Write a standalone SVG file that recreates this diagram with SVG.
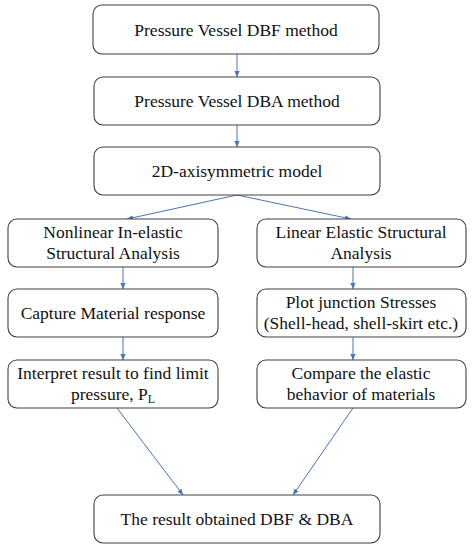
<svg xmlns="http://www.w3.org/2000/svg" width="472" height="550" viewBox="0 0 472 550">
<style>
.box{fill:#fff;stroke:#404040;stroke-width:1.1}
.t{font-size:17.5px;fill:#111;text-anchor:middle}
.c{stroke:#4a74b8;stroke-width:1;fill:none;marker-end:url(#ah)}
</style>
<defs>
<marker id="ah" viewBox="0 0 8 8" refX="8" refY="4" markerWidth="6" markerHeight="6" orient="auto" markerUnits="userSpaceOnUse">
<path d="M0,0.5 L8,4 L0,7.5 Z" fill="#4a74b8"/>
</marker>
</defs>
<rect width="472" height="550" fill="#fff"/>
<g id="connectors">
<line class="c" x1="237" y1="54" x2="237" y2="77"/>
<line class="c" x1="237" y1="125" x2="237" y2="147"/>
<line class="c" x1="237" y1="195" x2="127" y2="219"/>
<line class="c" x1="237" y1="195" x2="351" y2="219"/>
<line class="c" x1="123" y1="267" x2="123" y2="289"/>
<line class="c" x1="353" y1="267" x2="353" y2="289"/>
<line class="c" x1="123" y1="337" x2="123" y2="360"/>
<line class="c" x1="353" y1="337" x2="353" y2="360"/>
<line class="c" x1="117" y1="408" x2="183" y2="495"/>
<line class="c" x1="353" y1="408" x2="293" y2="495"/>
</g>
<g font-family="Liberation Serif, DejaVu Serif, serif">
<g id="n1"><rect class="box" x="93" y="5" width="286" height="49" rx="9"/><text class="t" x="236" y="36">Pressure Vessel DBF method</text></g>
<g id="n2"><rect class="box" x="94" y="77" width="286" height="48" rx="9"/><text class="t" x="237" y="107">Pressure Vessel DBA method</text></g>
<g id="n3"><rect class="box" x="94" y="147" width="286" height="48" rx="9"/><text class="t" x="237" y="177">2D-axisymmetric model</text></g>
<g id="n4"><rect class="box" x="8" y="219" width="210" height="48" rx="9"/><text class="t" x="113" y="238">Nonlinear In-elastic</text><text class="t" x="113" y="259">Structural Analysis</text></g>
<g id="n5"><rect class="box" x="257" y="219" width="209" height="48" rx="9"/><text class="t" x="361" y="238">Linear Elastic Structural</text><text class="t" x="361" y="259">Analysis</text></g>
<g id="n6"><rect class="box" x="8" y="289" width="210" height="48" rx="9"/><text class="t" x="113" y="319">Capture Material response</text></g>
<g id="n7"><rect class="box" x="257" y="289" width="209" height="48" rx="9"/><text class="t" x="361" y="308">Plot junction Stresses</text><text class="t" x="361" y="329">(Shell-head, shell-skirt etc.)</text></g>
<g id="n8"><rect class="box" x="8" y="360" width="210" height="48" rx="9"/><text class="t" x="113" y="379">Interpret result to find limit</text><text class="t" x="113" y="400">pressure, P<tspan font-size="12" dy="3">L</tspan></text></g>
<g id="n9"><rect class="box" x="257" y="360" width="209" height="48" rx="9"/><text class="t" x="361" y="379">Compare the elastic</text><text class="t" x="361" y="400">behavior of materials</text></g>
<g id="n10"><rect class="box" x="94" y="495" width="286" height="48" rx="9"/><text class="t" x="237" y="525">The result obtained DBF &amp; DBA</text></g>
</g>
</svg>
